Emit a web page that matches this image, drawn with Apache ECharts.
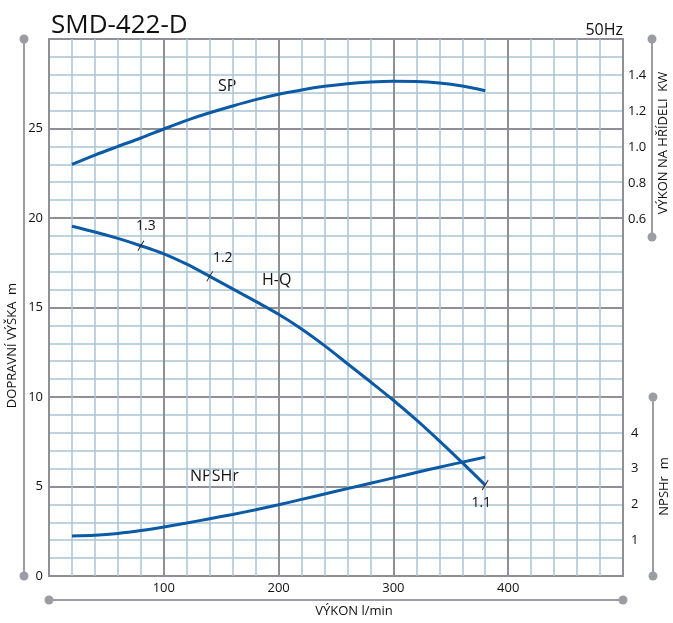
<!DOCTYPE html>
<html>
<head>
<meta charset="utf-8">
<script src="https://cdn.jsdelivr.net/npm/echarts@6/dist/echarts.min.js"></script>
<style>
  html, body { margin: 0; padding: 0; background: #fff; }
  #chart { width: 673px; height: 623px; }
</style>
</head>
<body>
<div id="chart"></div>
<script>
// flow l/min
const flow = [20, 40, 60, 80, 100, 120, 140, 160, 180, 200, 220, 240, 260, 280, 300, 320, 340, 360, 380];
// H-Q head, m
const headHQ = [19.54, 19.22, 18.86, 18.45, 18.0, 17.42, 16.74, 16.04, 15.34, 14.62, 13.8, 12.87, 11.86, 10.85, 9.82, 8.72, 7.55, 6.33, 5.08];
// SP shaft power, kW
const powerSP = [0.903, 0.955, 1.003, 1.05, 1.10, 1.148, 1.19, 1.228, 1.263, 1.293, 1.317, 1.337, 1.352, 1.361, 1.365, 1.364, 1.356, 1.339, 1.313];
// NPSHr, m
const npshr = [1.12, 1.14, 1.19, 1.27, 1.37, 1.48, 1.6, 1.72, 1.85, 1.99, 2.14, 2.29, 2.44, 2.59, 2.74, 2.89, 3.04, 3.18, 3.32];
// marks on H-Q
const markFlow = [80, 140, 380];
const markHead = [18.45, 16.74, 5.08];
const markText = ['1.3', '1.2', '1.1'];

const BLUE = '#0b5aa6';
const MAJOR = '#8f9097';
const MINOR = '#a9c5d5';
const AXIS = '#9c9da2';
const FONT = 'Open Sans';

let pair = (xs, ys) => xs.map((x, i) => [x, ys[i]]);

let lineOnly = (extra) => Object.assign({
    axisLine: { show: true, onZero: false, symbol: ['circle', 'circle'], symbolSize: [9, 9], lineStyle: { color: AXIS, width: 2 } },
    axisLabel: { show: false },
    axisTick: { show: false },
    splitLine: { show: false },
    nameLocation: 'middle',
    nameGap: 5,
    nameTextStyle: { fontFamily: FONT, fontSize: 13, color: '#111' }
}, extra);

let hidden = (gridIndex) => ({ type: 'value', gridIndex, min: 0, max: 500, show: false });

let gridBox = (top, bottom, extra) => Object.assign({
    left: 49, right: 50, top, bottom, containLabel: false, outerBoundsMode: 'none'
}, extra);

let option = {
    animation: false,
    title: [
        { text: 'SMD-422-D', left: 46, top: 8, textStyle: { fontFamily: FONT, fontSize: 26, fontWeight: 'normal', color: '#111' } },
        { text: '50Hz', right: 45, top: 17, textStyle: { fontFamily: FONT, fontSize: 16, fontWeight: 'normal', color: '#111' } }
    ],
    grid: [
        gridBox(39, 47, { show: true, borderColor: MAJOR, borderWidth: 2 }),
        gridBox(39, 386),
        gridBox(397, 47)
    ],
    xAxis: [
        {
            type: 'value', gridIndex: 0, min: 0, max: 500, interval: 100,
            axisLine: { show: false, onZero: false }, axisTick: { show: false },
            axisLabel: {
                fontFamily: FONT, fontSize: 13, color: '#111', margin: 6,
                formatter: v => (v > 0 && v < 500) ? v : ''
            },
            splitLine: { show: true, lineStyle: { color: MAJOR, width: 2 } },
            minorTick: { show: false, splitNumber: 5 },
            minorSplitLine: { show: true, lineStyle: { color: MINOR, width: 1.5 } }
        },
        lineOnly({
            type: 'value', gridIndex: 0, min: 0, max: 500, position: 'bottom', offset: 24,
            name: 'VÝKON l/min',
            nameTextStyle: { fontFamily: FONT, fontSize: 13, color: '#111', padding: [0, 0, 0, 36] }
        }),
        hidden(1),
        hidden(2)
    ],
    yAxis: [
        {
            type: 'value', gridIndex: 0, min: 0, max: 30, interval: 5, position: 'left',
            axisLine: { show: false, onZero: false }, axisTick: { show: false },
            axisLabel: {
                fontFamily: FONT, fontSize: 13, color: '#111', margin: 6,
                formatter: v => v < 30 ? v : ''
            },
            splitLine: { show: true, lineStyle: { color: MAJOR, width: 2 } },
            minorTick: { show: false, splitNumber: 5 },
            minorSplitLine: { show: true, lineStyle: { color: MINOR, width: 1.5 } }
        },
        lineOnly({
            type: 'value', gridIndex: 0, min: 0, max: 30, position: 'left', offset: 25,
            name: 'DOPRAVNÍ VÝŠKA  m', nameRotate: 90,
            nameTextStyle: { fontFamily: FONT, fontSize: 13, color: '#111', padding: [0, 76, 0, 0] }
        }),
        {
            type: 'value', gridIndex: 1, min: 0.5, max: 1.6, interval: 0.1, position: 'right',
            axisLine: { show: false, onZero: false }, axisTick: { show: false }, splitLine: { show: false },
            axisLabel: {
                fontFamily: FONT, fontSize: 13, color: '#111', margin: 5,
                formatter: v => {
                    let t = Math.round(v * 10);
                    return (t % 2 === 0 && t >= 6 && t <= 14) ? (t / 10).toFixed(1) : '';
                }
            }
        },
        lineOnly({
            type: 'value', gridIndex: 1, min: 0.5, max: 1.6, position: 'right', offset: 29,
            name: 'VÝKON NA HŘÍDELI  KW', nameRotate: 90,
            nameTextStyle: { fontFamily: FONT, fontSize: 13, color: '#111', padding: [0, 10, 0, 0] }
        }),
        {
            type: 'value', gridIndex: 2, min: 0, max: 5, interval: 1, position: 'right',
            axisLine: { show: false, onZero: false }, axisTick: { show: false }, splitLine: { show: false },
            axisLabel: {
                fontFamily: FONT, fontSize: 13, color: '#111', margin: 8,
                formatter: v => (v > 0 && v < 5) ? v : ''
            }
        },
        lineOnly({
            type: 'value', gridIndex: 2, min: 0, max: 5, position: 'right', offset: 30,
            name: 'NPSHr  m', nameRotate: 90
        })
    ],
    graphic: [
        { type: 'text', left: 218, top: 78, style: { text: 'SP', fontFamily: FONT, fontSize: 16, fill: '#111' } },
        { type: 'text', left: 262, top: 272, style: { text: 'H-Q', fontFamily: FONT, fontSize: 16, fill: '#111' } },
        { type: 'text', left: 190, top: 468, style: { text: 'NPSHr', fontFamily: FONT, fontSize: 16, fill: '#111' } }
    ],
    series: [
        {
            name: 'H-Q', type: 'line', xAxisIndex: 0, yAxisIndex: 0, smooth: 0.3, showSymbol: false,
            lineStyle: { color: BLUE, width: 3 }, data: pair(flow, headHQ), z: 3
        },
        {
            name: 'SP', type: 'line', xAxisIndex: 2, yAxisIndex: 2, smooth: 0.3, showSymbol: false,
            lineStyle: { color: BLUE, width: 3 }, data: pair(flow, powerSP), z: 3
        },
        {
            name: 'NPSHr', type: 'line', xAxisIndex: 3, yAxisIndex: 4, smooth: 0.3, showSymbol: false,
            lineStyle: { color: BLUE, width: 3 }, data: pair(flow, npshr), z: 3
        },
        {
            name: 'marks', type: 'scatter', xAxisIndex: 0, yAxisIndex: 0, z: 4,
            symbol: 'path://M0,10L6,0', symbolSize: [6, 10],
            itemStyle: { color: 'none', borderColor: '#222', borderWidth: 1, opacity: 1 },
            label: { show: true, fontFamily: FONT, fontSize: 14, color: '#111', opacity: 1 },
            data: pair(markFlow, markHead).map((d, i) => ({
                value: d,
                label: {
                    formatter: markText[i],
                    position: i === 2 ? 'bottom' : 'top',
                    offset: i === 0 ? [5, 0] : (i === 1 ? [13, 2] : [-4, -2])
                }
            }))
        }
    ]
};

let myChart = echarts.init(document.getElementById('chart'));
myChart.setOption(option);
</script>
</body>
</html>
